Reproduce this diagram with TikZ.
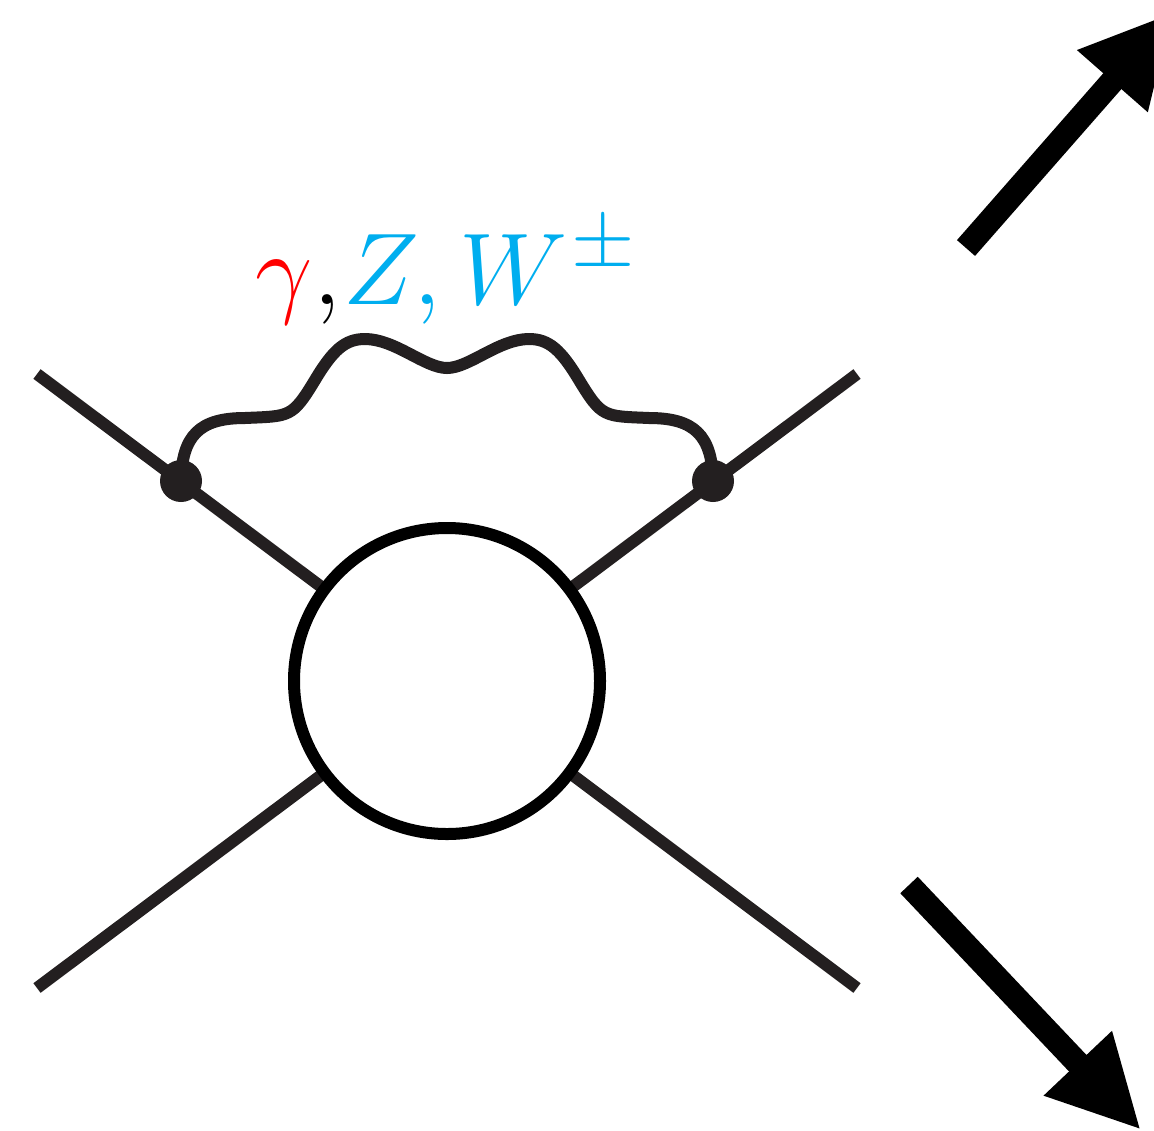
\documentclass[tikz,border=0pt]{standalone}
\usepackage{xcolor}
\usepackage{amsmath}
\usetikzlibrary{
  arrows.meta,
  positioning,
  calc
}
\definecolor{fdLine}{HTML}{231F20}
\definecolor{fdPhoton}{HTML}{FF0000}
\definecolor{fdWeak}{HTML}{00AEEF}
\tikzset{
  leg/.style={line width=6pt, fdLine},
  blob/.style={draw=black, circle, fill=white, line width=6pt, minimum size=153pt, inner sep=0pt},
  vertexdot/.style={circle, fill=fdLine, minimum size=21pt, inner sep=0pt},
  boson/.style={line width=6pt, fdLine},
  bigarrow/.style={line width=12pt, black, -{Triangle[length=46pt, width=43.5pt]}},
  gaugelabel/.style={font=\fontsize{25pt}{30pt}\selectfont, scale=2.05, transform shape, inner sep=0pt, anchor=base west}
}
\begin{document}
\begin{tikzpicture}[x=0.5pt, y=-0.5pt]
  \useasboundingbox (0,0) rectangle (1154,1130);
  % legs
  \coordinate (ul) at (37,374);
  \coordinate (ur) at (857,374);
  \coordinate (ll) at (37,988);
  \coordinate (lr) at (857,988);
  \coordinate (mid) at (447,681);
  \draw[leg] (ul) -- (mid);
  \draw[leg] (ur) -- (mid);
  \draw[leg] (ll) -- (mid);
  \draw[leg] (lr) -- (mid);
  \node[blob] (core) at (mid) {};
  \node[vertexdot] (vl) at (181,481) {};
  \node[vertexdot] (vr) at (713,481) {};
  % gauge boson
  \draw[boson] (vl.center) .. controls (182,435) and (200,418) .. (245,418)
    .. controls (290,416) and (292,418) .. (315,380)
    .. controls (333,350) and (345,339) .. (365,339)
    .. controls (395,339) and (425,368) .. (447,368)
    .. controls (469,368) and (499,339) .. (529,339)
    .. controls (549,339) and (561,350) .. (579,380)
    .. controls (602,418) and (604,416) .. (649,418)
    .. controls (694,418) and (712,435) .. (vr.center);
  \node[gaugelabel] (gauge) at (255,304) {$\textcolor{fdPhoton}{\gamma}{,}\mkern0.5mu\textcolor{fdWeak}{Z,\mkern0.2mu W^{\mkern1mu\scalebox{1.15}{$\scriptstyle\pm$}}}$};
  % outgoing
  \coordinate (ua0) at (966,248);
  \coordinate (ua1) at (1173,12);
  \coordinate (da0) at (909,885);
  \coordinate (da1) at (1141,1130);
  \draw[bigarrow] (ua0) -- (ua1);
  \draw[bigarrow] (da0) -- (da1);
\end{tikzpicture}
\end{document}
